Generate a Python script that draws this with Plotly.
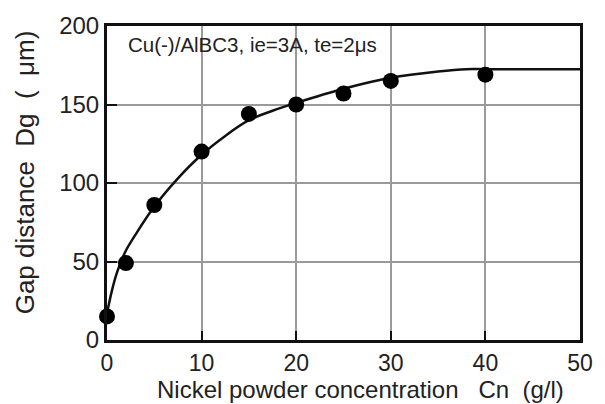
import plotly.graph_objects as go

# Measured data
cn = [0, 2, 5, 10, 15, 20, 25, 30, 40]
dg = [15, 49, 86, 120, 144, 150, 157, 165, 169]

# Fitted curve
fit_x = [0, 0.5, 1, 1.5, 2, 3, 5, 7.5, 10, 12.5, 15, 17.5, 20, 25, 30, 35, 38, 40, 50]
fit_y = [17, 31, 42, 50, 57, 67, 85, 103, 118, 130, 140, 146, 151, 160, 167, 171, 172.5, 172.5, 172.5]

x_ticks = [0, 10, 20, 30, 40, 50]
y_ticks = [0, 50, 100, 150, 200]

sp = "\u00a0"
x_title = "Nickel powder concentration" + sp * 3 + "Cn" + sp * 2 + "(g/l)"
y_title = "Gap distance" + sp * 2 + "Dg" + sp * 2 + "(" + sp * 2 + "μm)"
note = "Cu(-)/AlBC3, ie=3A, te=2μs"

fig = go.Figure()
fig.add_trace(go.Scatter(x=fit_x, y=fit_y, mode="lines",
                         line=dict(color="#111", width=2.5, shape="spline", smoothing=1.0),
                         hoverinfo="skip", showlegend=False, cliponaxis=False))
fig.add_trace(go.Scatter(x=cn, y=dg, mode="markers",
                         marker=dict(color="#000", size=16),
                         showlegend=False, cliponaxis=False))

font_fam = "Liberation Sans, Arial, sans-serif"
tc = "#222"
fig.update_layout(
    width=605, height=404,
    margin=dict(l=107, r=15, t=19, b=64),
    paper_bgcolor="white", plot_bgcolor="white",
    font=dict(family=font_fam, color=tc),
    xaxis=dict(range=[0, 50], tickvals=x_ticks, ticktext=[str(v) for v in x_ticks],
               showgrid=True, gridcolor="#9a9a9a", gridwidth=2,
               showline=True, linecolor="#111", linewidth=3, mirror=True,
               ticks="inside", ticklen=9, tickwidth=2, tickcolor="#111",
               tickfont=dict(size=23, family=font_fam, color=tc),
               zeroline=False, fixedrange=True),
    yaxis=dict(range=[0, 200], tickvals=y_ticks, ticktext=[str(v) for v in y_ticks],
               showgrid=True, gridcolor="#9a9a9a", gridwidth=2,
               showline=True, linecolor="#111", linewidth=3, mirror=True,
               ticks="inside", ticklen=10, tickwidth=2, tickcolor="#111",
               tickfont=dict(size=24, family=font_fam, color=tc),
               zeroline=False, fixedrange=True),
    annotations=[
        dict(x=0.04, y=0.94, xref="paper", yref="paper",
             xanchor="left", yanchor="middle", showarrow=False,
             text=note, font=dict(size=20.5, family=font_fam, color=tc)),
        dict(x=0.536, y=0, xref="paper", yref="paper", xanchor="center", yanchor="middle",
             yshift=-49, showarrow=False, text=x_title,
             font=dict(size=24, family=font_fam, color=tc)),
        dict(x=0, y=0.534, xref="paper", yref="paper", xanchor="center", yanchor="middle",
             xshift=-82, showarrow=False, text=y_title, textangle=-90,
             font=dict(size=26, family=font_fam, color=tc)),
    ],
)

fig.write_html("out.html")
